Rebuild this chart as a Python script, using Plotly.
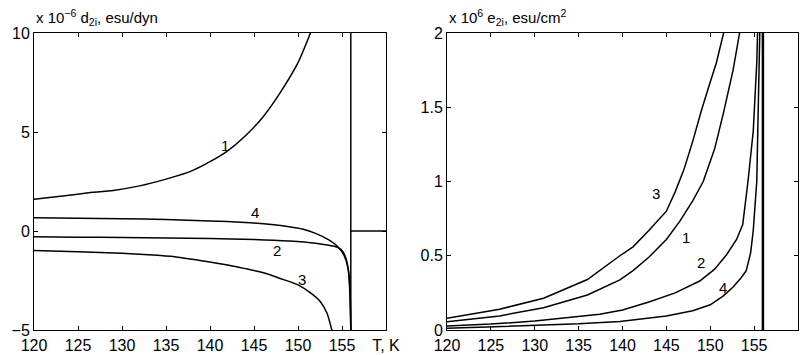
import plotly.graph_objects as go

# ---------------- data ----------------
TC = 156.0
x_ticks = [120, 125, 130, 135, 140, 145, 150, 155, 160]
x_ticktext = ["120", "125", "130", "135", "140", "145", "150", "155", "T, K"]

# left panel: d_2i (x 1e-6 esu/dyn)
d1_T = [120, 123, 126, 129, 132, 135, 138, 140, 142, 144, 146, 148, 150, 151.6]
d1_v = [1.60, 1.75, 1.92, 2.05, 2.28, 2.62, 3.05, 3.50, 4.05, 4.80, 5.75, 7.00, 8.50, 10.2]

d2_T = [120, 125, 130, 135, 140, 145, 149, 152, 153.5, 154.5, 155.1, 155.5, 155.8, 156.0]
d2_v = [-0.29, -0.31, -0.33, -0.35, -0.38, -0.43, -0.51, -0.62, -0.72, -0.82, -1.05, -1.46, -2.3, -5.0]

d3_T = [120, 125, 130, 133, 136, 139, 142, 144, 146, 148, 150, 151.5, 152.5, 153.3, 153.9]
d3_v = [-0.99, -1.05, -1.13, -1.2, -1.3, -1.5, -1.72, -1.9, -2.1, -2.4, -2.72, -3.15, -3.55, -4.15, -5.1]

d4_T = [120, 125, 130, 135, 140, 144, 147, 149, 150.5, 152, 153.5, 154.5, 155.2, 155.7, 155.95, 156.0]
d4_v = [0.67, 0.65, 0.62, 0.58, 0.51, 0.43, 0.33, 0.22, 0.10, -0.12, -0.45, -0.78, -1.2, -1.9, -3.5, -5.0]

d_labels = ["1", "4", "2", "3"]
d_label_T = [141.7, 145.1, 147.6, 150.4]
d_label_v = [4.34, 0.92, -0.96, -2.47]

# right panel: e_2i (x 1e6 esu/cm^2)
e1_T = [120, 126, 131, 136, 139.7, 141.2, 143, 145, 146.5, 148, 149.2, 150.5, 151.5, 152.6, 153.4]
e1_v = [0.056, 0.095, 0.15, 0.236, 0.338, 0.40, 0.49, 0.61, 0.73, 0.87, 1.0, 1.22, 1.46, 1.75, 2.02]

e2_T = [120, 125, 130, 135, 137.4, 140, 143.1, 146, 148.8, 150.5, 151.9, 153, 153.7, 154.3, 154.9, 155.3, 155.4]
e2_v = [0.027, 0.04, 0.06, 0.09, 0.106, 0.135, 0.19, 0.25, 0.33, 0.41, 0.51, 0.61, 0.71, 1.0, 1.34, 1.8, 2.02]

e3_T = [120, 126, 131, 136, 139.7, 141.2, 143, 145, 146, 147, 148, 149, 150, 150.7, 151.6]
e3_v = [0.079, 0.14, 0.214, 0.34, 0.5, 0.56, 0.67, 0.80, 0.93, 1.08, 1.27, 1.48, 1.67, 1.8, 2.02]

e4_T = [120, 125, 130, 135, 139.7, 145, 148, 150, 151.5, 152.6, 153.5, 154.1, 154.6, 154.9, 155.3, 155.45, 155.65]
e4_v = [0.011, 0.02, 0.03, 0.042, 0.058, 0.095, 0.13, 0.17, 0.23, 0.29, 0.35, 0.40, 0.52, 0.67, 1.0, 1.4, 2.02]

e_labels = ["3", "1", "2", "4"]
e_label_T = [143.8, 147.2, 149.0, 151.5]
e_label_v = [0.917, 0.62, 0.455, 0.286]

# ---------------- figure ----------------
FONT = "Liberation Sans, Arial, Helvetica, sans-serif"
TICK_SIZE = 16
TEXT_SIZE = 15
fig = go.Figure()
line = dict(color="black", width=1.5)

for T, v in [(d1_T, d1_v), (d2_T, d2_v), (d3_T, d3_v), (d4_T, d4_v)]:
    fig.add_trace(go.Scatter(x=T, y=v, mode="lines", line=dict(line, shape="spline", smoothing=0.6),
                             xaxis="x", yaxis="y", showlegend=False, hoverinfo="skip"))
# paraelectric phase: zero above Tc, jump at Tc
fig.add_trace(go.Scatter(x=[TC, TC, None, TC, 160], y=[10, -5, None, 0, 0], mode="lines", line=line,
                         xaxis="x", yaxis="y", showlegend=False, hoverinfo="skip"))

for T, v in [(e1_T, e1_v), (e2_T, e2_v), (e3_T, e3_v), (e4_T, e4_v)]:
    fig.add_trace(go.Scatter(x=T, y=v, mode="lines", line=line,
                             xaxis="x2", yaxis="y2", showlegend=False, hoverinfo="skip"))
fig.add_trace(go.Scatter(x=[TC, TC], y=[0, 2], mode="lines", line=dict(color="black", width=2.5),
                         xaxis="x2", yaxis="y2", showlegend=False, hoverinfo="skip"))

W, H = 805, 355
L1, R1 = 34 / W, 386 / W
L2, R2 = 447 / W, 798 / W
B, T_ = 1 - 330 / H, 1 - 33 / H

axis_common = dict(showline=True, linecolor="black", linewidth=1, mirror="ticks", ticks="inside",
                   ticklen=4, tickcolor="black", tickwidth=1, showgrid=False, zeroline=False,
                   automargin=False,
                   tickfont=dict(family=FONT, size=TICK_SIZE, color="black"))

fig.update_layout(
    width=W, height=H, autosize=False,
    margin=dict(l=0, r=0, t=0, b=0),
    paper_bgcolor="white", plot_bgcolor="white",
    font=dict(family=FONT, size=TICK_SIZE, color="black"),
    xaxis=dict(axis_common, domain=[L1, R1], range=[120, 160], tickvals=x_ticks, ticktext=x_ticktext,
               anchor="y", ticklabelstandoff=1),
    yaxis=dict(axis_common, domain=[B, T_], range=[-5, 10], tickvals=[-5, 0, 5, 10],
               ticktext=["\u22125", "0", "5", "10"], anchor="x"),
    xaxis2=dict(axis_common, domain=[L2, R2], range=[120, 160], tickvals=x_ticks, ticktext=x_ticktext,
                anchor="y2", ticklabelstandoff=1),
    yaxis2=dict(axis_common, domain=[B, T_], range=[0, 2], tickvals=[0, 0.5, 1, 1.5, 2],
                ticktext=["0", "0.5", "1", "1.5", "2"], anchor="x2"),
)

annots = []
for txt, x, y in zip(d_labels, d_label_T, d_label_v):
    annots.append(dict(text=txt, x=x, y=y, xref="x", yref="y", showarrow=False,
                       font=dict(family=FONT, size=TEXT_SIZE, color="black")))
for txt, x, y in zip(e_labels, e_label_T, e_label_v):
    annots.append(dict(text=txt, x=x, y=y, xref="x2", yref="y2", showarrow=False,
                       font=dict(family=FONT, size=TEXT_SIZE, color="black")))
annots.append(dict(text="x 10<sup>\u22126</sup> d<sub>2i</sub>, esu/dyn", x=L1, y=1 - 17 / H,
                   xref="paper", yref="paper", xanchor="left", yanchor="middle", showarrow=False,
                   font=dict(family=FONT, size=TEXT_SIZE, color="black")))
annots.append(dict(text="x 10<sup>6</sup> e<sub>2i</sub>, esu/cm<sup>2</sup>", x=L2, y=1 - 17 / H,
                   xref="paper", yref="paper", xanchor="left", yanchor="middle", showarrow=False,
                   font=dict(family=FONT, size=TEXT_SIZE, color="black")))
fig.update_layout(annotations=annots)

fig.write_html("out.html")
